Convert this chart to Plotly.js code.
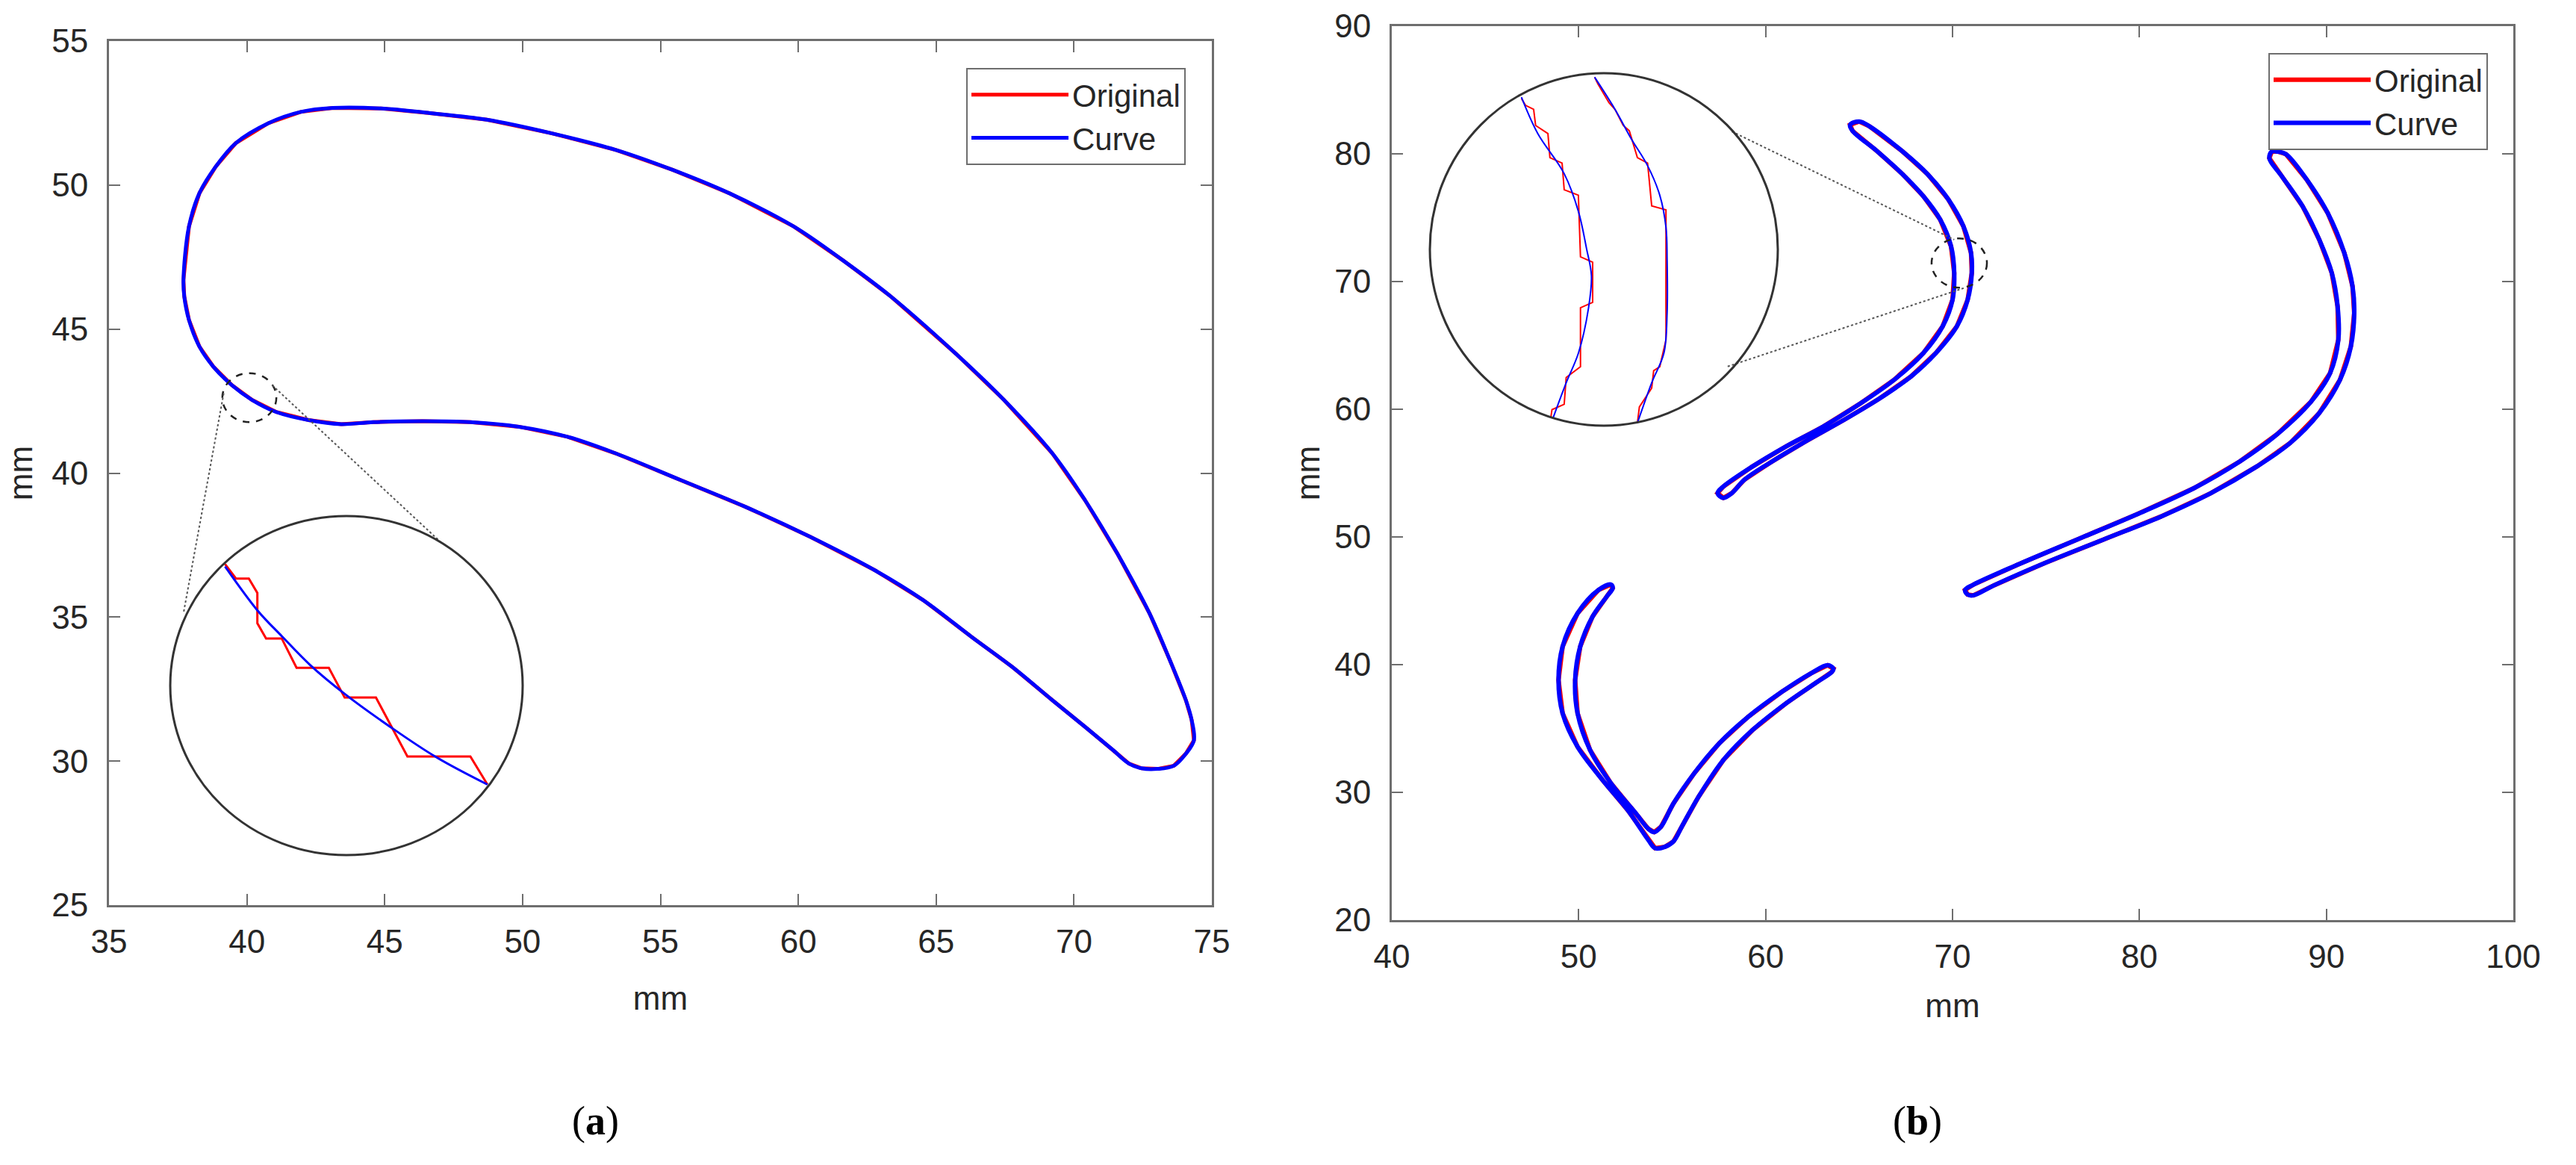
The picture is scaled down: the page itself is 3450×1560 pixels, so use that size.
<!DOCTYPE html>
<html>
<head>
<meta charset="utf-8">
<script src="https://cdn.plot.ly/plotly-3.0.1.min.js"></script>
<style>html,body{margin:0;padding:0;background:#fff;}</style>
</head>
<body>
<div id="chart" style="width:3450px;height:1560px;"></div>
<script>
// ---------- Panel (a): blade profile (mm) ----------
const bladeA_x = [37.70,37.90,38.28,38.87,39.60,40.78,41.95,43.12,44.88,46.64,48.70,51.04,53.39,55.44,57.49,59.84,61.60,63.36,65.70,67.46,69.22,70.40,71.57,72.74,73.48,74.06,74.27,74.35,74.06,73.62,73.03,72.45,72.00,71.42,70.40,69.22,67.76,66.29,64.53,62.77,60.43,58.08,55.73,53.39,51.63,49.87,48.11,46.35,44.59,43.42,42.24,41.07,40.19,39.46,38.78,38.28,37.90,37.73,37.70];
const bladeA_y = [46.71,48.56,49.72,50.64,51.46,52.15,52.54,52.68,52.66,52.50,52.27,51.80,51.22,50.53,49.72,48.56,47.40,46.13,44.16,42.54,40.68,39.06,37.21,35.13,33.50,32.11,31.42,30.72,30.26,29.84,29.73,29.75,29.91,30.38,31.19,32.11,33.27,34.31,35.59,36.63,37.79,38.83,39.76,40.68,41.26,41.61,41.77,41.80,41.77,41.70,41.84,42.12,42.54,43.05,43.70,44.39,45.32,46.13,46.71];

// Panel (a) magnified detail (mm)
const zoomA_orig_x = [39.487,39.542,39.607,39.650,39.650,39.694,39.773,39.848,40.011,40.091,40.249,40.408,40.726,40.812];
const zoomA_orig_y = [43.226,43.153,43.153,43.080,42.926,42.849,42.849,42.700,42.700,42.549,42.549,42.250,42.250,42.108];
const zoomA_curve_x = [39.487,39.650,39.773,39.917,40.091,40.322,40.553,40.812];
const zoomA_curve_y = [43.214,42.992,42.861,42.714,42.568,42.400,42.247,42.108];

// ---------- Panel (b): three thin blades (mm) ----------
const blade1_x = [65.01,65.55,67.33,68.67,69.78,70.58,70.99,71.03,70.81,70.23,69.11,67.78,65.99,64.21,61.98,60.20,58.86,58.19,57.74,57.43,57.74,59.30,61.09,63.09,65.10,66.88,68.44,69.47,70.00,70.09,69.92,69.34,68.44,67.33,65.99,64.65,64.52,65.01];
const blade1_y = [82.53,82.16,80.18,78.40,76.42,74.33,72.24,70.67,68.58,66.49,64.40,62.57,60.74,59.18,57.35,55.78,54.47,53.43,53.06,53.43,53.95,55.52,57.08,58.65,60.48,62.31,64.40,66.49,68.58,70.67,72.76,74.85,76.68,78.40,80.18,81.80,82.27,82.53];
const blade2_x = [87.39,87.84,88.95,90.07,90.96,91.40,91.49,91.31,90.73,89.62,88.06,86.28,83.82,81.15,78.03,74.91,72.23,71.12,70.81,70.67,71.12,73.57,76.69,79.81,82.93,85.38,87.39,89.17,90.20,90.64,90.60,90.29,89.62,88.73,87.62,86.95,87.08,87.39];
const blade2_y = [80.18,79.97,77.98,75.37,72.24,69.62,67.53,64.92,62.31,59.70,57.35,55.52,53.43,51.60,49.77,47.94,46.22,45.43,45.49,45.85,46.27,47.88,49.81,51.74,53.83,55.92,58.07,60.58,62.83,65.44,68.06,70.67,73.28,75.89,78.24,79.66,80.18,80.18];
const blade3_x = [51.73,51.06,49.94,49.14,48.92,49.14,49.94,51.28,52.62,53.73,54.09,54.62,55.07,55.51,56.41,57.74,59.30,61.09,62.65,63.54,63.63,63.32,62.43,60.86,59.08,57.52,56.18,55.07,54.40,54.04,53.73,53.06,51.73,50.61,49.94,49.81,50.08,50.74,51.50,51.82,51.73];
const blade3_y = [46.27,45.85,44.02,41.41,38.80,36.19,33.57,30.96,28.61,26.26,25.63,25.74,26.16,27.30,29.65,32.53,34.88,36.97,38.54,39.43,39.69,39.95,39.32,37.86,35.93,33.84,31.49,29.13,27.30,26.89,27.14,28.35,30.70,33.31,36.19,38.80,41.41,43.76,45.33,46.00,46.27];

// Panel (b) magnified detail (mm)
const zoomB_origL_x = [69.697,69.730,69.795,69.811,69.910,69.926,70.024,70.041,70.155,70.172,70.270,70.270,70.172,70.172,70.057,70.041,69.943,69.933];
const zoomB_origL_y = [73.204,73.126,73.079,72.892,72.798,72.518,72.455,72.144,72.081,71.364,71.302,70.834,70.772,70.086,69.961,69.649,69.587,69.493];
const zoomB_origR_x = [70.286,70.312,70.401,70.450,70.516,70.565,70.630,70.712,70.745,70.860,70.860,70.810,70.761,70.745,70.646,70.630];
const zoomB_origR_y = [73.453,73.375,73.157,73.079,72.892,72.830,72.518,72.455,71.957,71.910,70.398,70.086,70.039,69.837,69.618,69.431];
const zoomB_curveL_x = [69.697,69.828,70.041,70.155,70.221,70.260,70.237,70.155,70.057,69.952];
const zoomB_curveL_y = [73.220,72.798,72.331,71.894,71.458,71.146,70.772,70.242,69.899,69.493];
const zoomB_curveR_x = [70.286,70.450,70.581,70.712,70.810,70.860,70.869,70.869,70.843,70.745,70.630];
const zoomB_curveR_y = [73.453,73.079,72.736,72.424,72.081,71.707,71.333,70.710,70.242,69.899,69.431];

// Axis ticks
const ticksAx = [35,40,45,50,55,60,65,70,75];
const ticksAy = [25,30,35,40,45,50,55];
const ticksBx = [40,50,60,70,80,90,100];
const ticksBy = [20,30,40,50,60,70,80,90];

const RED = 'rgb(255,0,0)', BLUE = 'rgb(0,0,255)';
const traces = [];
function pair(o, c, xa, ya, w, leg, show) {
  traces.push({type:'scatter', mode:'lines', x:o.x, y:o.y, xaxis:xa, yaxis:ya,
    line:{color:RED, width:w}, name:'Original', legend:leg, showlegend:show, hoverinfo:'skip'});
  traces.push({type:'scatter', mode:'lines', x:c.x, y:c.y, xaxis:xa, yaxis:ya,
    line:{color:BLUE, width:w, shape:'spline', smoothing:1}, name:'Curve', legend:leg, showlegend:show, hoverinfo:'skip'});
}
// panel a
pair({x:bladeA_x, y:bladeA_y}, {x:bladeA_x, y:bladeA_y}, 'x', 'y', 5, 'legend', true);
pair({x:zoomA_orig_x, y:zoomA_orig_y}, {x:zoomA_curve_x, y:zoomA_curve_y}, 'x3', 'y3', 3, 'legend', false);
// panel b
pair({x:blade1_x, y:blade1_y}, {x:blade1_x, y:blade1_y}, 'x2', 'y2', 6, 'legend2', true);
pair({x:blade2_x, y:blade2_y}, {x:blade2_x, y:blade2_y}, 'x2', 'y2', 6, 'legend2', false);
pair({x:blade3_x, y:blade3_y}, {x:blade3_x, y:blade3_y}, 'x2', 'y2', 6, 'legend2', false);
pair({x:zoomB_origL_x, y:zoomB_origL_y}, {x:zoomB_curveL_x, y:zoomB_curveL_y}, 'x4', 'y4', 2, 'legend2', false);
pair({x:zoomB_origR_x, y:zoomB_origR_y}, {x:zoomB_curveR_x, y:zoomB_curveR_y}, 'x4', 'y4', 2, 'legend2', false);

const W = 3450, H = 1560;
const px = v => v / W, py = v => 1 - v / H;
const FONT = 'Liberation Sans, Arial, Helvetica, sans-serif';
const AX = '#6e6e6e', TXT = '#262626';

function mainAxis(extra) {
  return Object.assign({
    showgrid:false, zeroline:false, showline:true, linecolor:AX, linewidth:3,
    mirror:'ticks', ticks:'inside', ticklen:15, tickwidth:2, tickcolor:AX,
    tickfont:{family:FONT, size:44, color:TXT}, tickmode:'array'
  }, extra);
}
const ttl = s => ({text:'mm', standoff:s, font:{family:FONT, size:44, color:TXT}});
const hidden = extra => Object.assign({visible:false, showgrid:false, zeroline:false, fixedrange:true}, extra);

const layout = {
  width:W, height:H, margin:{l:0, r:0, t:0, b:0},
  paper_bgcolor:'#fff', plot_bgcolor:'#fff',
  font:{family:FONT, color:TXT},
  xaxis: mainAxis({domain:[px(146), px(1623)], range:[35,75], tickvals:ticksAx, anchor:'y', ticklabelstandoff:8, title:ttl(38)}),
  yaxis: mainAxis({domain:[py(1212), py(55)], range:[25,55], tickvals:ticksAy, anchor:'x', ticklabelstandoff:16, title:ttl(12)}),
  xaxis2: mainAxis({domain:[px(1864), px(3366)], range:[40,100], tickvals:ticksBx, anchor:'y2', ticklabelstandoff:8, title:ttl(28)}),
  yaxis2: mainAxis({domain:[py(1232), py(35)], range:[20,90], tickvals:ticksBy, anchor:'x2', ticklabelstandoff:16, title:ttl(6)}),
  xaxis3: hidden({domain:[px(228), px(700)], range:[39.21,40.99], anchor:'y3'}),
  yaxis3: hidden({domain:[py(1145), py(691)], range:[41.75,43.47], anchor:'x3'}),
  xaxis4: hidden({domain:[px(1915), px(2381)], range:[68.96,71.76], anchor:'y4'}),
  yaxis4: hidden({domain:[py(570), py(98)], range:[69.4,73.5], anchor:'x4'}),
  legend: {x:px(1588), xanchor:'right', y:py(91), yanchor:'top', bgcolor:'#fff', bordercolor:AX, borderwidth:2,
           font:{family:FONT, size:42, color:TXT}, itemwidth:130, tracegroupgap:0},
  legend2: {x:px(3332), xanchor:'right', y:py(71), yanchor:'top', bgcolor:'#fff', bordercolor:AX, borderwidth:2,
           font:{family:FONT, size:42, color:TXT}, itemwidth:130, tracegroupgap:0},
  shapes: [
    {type:'circle', xref:'x', yref:'y', x0:39.11, x1:41.07, y0:41.77, y1:43.47, line:{color:'#222', width:2.5, dash:'dash'}},
    {type:'line', xref:'x', yref:'y', x0:39.16, y0:42.77, x1:37.70, y1:35.13, line:{color:'#555', width:2, dash:'dot'}},
    {type:'line', xref:'x', yref:'y', x0:40.92, y0:43.05, x1:47.08, y1:37.56, line:{color:'#555', width:2, dash:'dot'}},
    {type:'circle', xref:'x3 domain', yref:'y3 domain', x0:0, x1:1, y0:0, y1:1, line:{color:'#333', width:3}},
    {type:'circle', xref:'x2', yref:'y2', x0:68.88, x1:71.84, y0:69.52, y1:73.38, line:{color:'#222', width:2.5, dash:'dash'}},
    {type:'line', xref:'x2', yref:'y2', x0:58.19, y0:81.75, x1:70.09, y1:73.28, line:{color:'#555', width:2, dash:'dot'}},
    {type:'line', xref:'x2', yref:'y2', x0:57.97, y0:63.35, x1:70.67, y1:69.52, line:{color:'#555', width:2, dash:'dot'}},
    {type:'circle', xref:'x4 domain', yref:'y4 domain', x0:0, x1:1, y0:0, y1:1, line:{color:'#333', width:3}}
  ],
  annotations: [
    {xref:'paper', yref:'paper', x:px(797), y:py(1501), xanchor:'center', yanchor:'middle', showarrow:false,
     text:'(<b>a</b>)', font:{family:'Liberation Serif, Times New Roman, serif', size:54, color:'#000'}},
    {xref:'paper', yref:'paper', x:px(2568), y:py(1501), xanchor:'center', yanchor:'middle', showarrow:false,
     text:'(<b>b</b>)', font:{family:'Liberation Serif, Times New Roman, serif', size:54, color:'#000'}}
  ]
};

Plotly.newPlot('chart', traces, layout, {staticPlot:true, displayModeBar:false});
</script>
</body>
</html>
